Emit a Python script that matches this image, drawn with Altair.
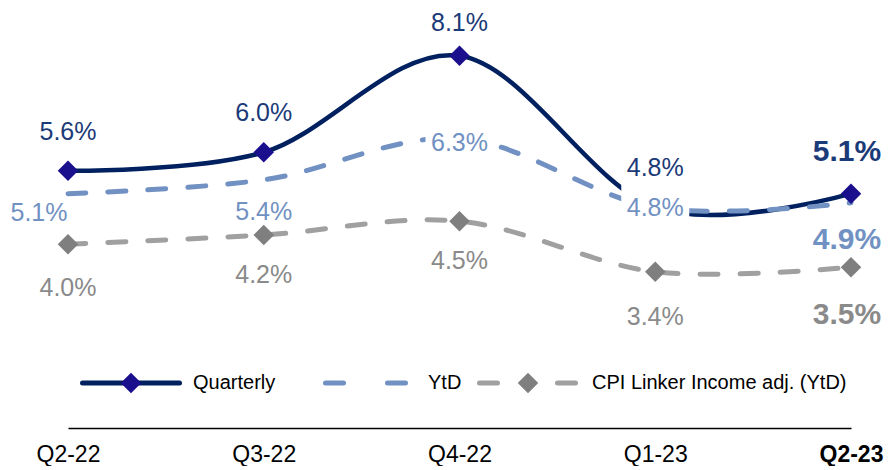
import altair as alt
import pandas as pd

quarters = ["Q2-22", "Q3-22", "Q4-22", "Q1-23", "Q2-23"]
quarterly = [5.6, 6.0, 8.1, 4.8, 5.1]
ytd = [5.1, 5.4, 6.3, 4.8, 4.9]
cpi = [4.0, 4.2, 4.5, 3.4, 3.5]
series_names = ["Quarterly", "YtD", "CPI Linker Income adj. (YtD)"]

rows = []
for name, vals in zip(series_names, [quarterly, ytd, cpi]):
    for i, (q, v) in enumerate(zip(quarters, vals)):
        rows.append({"series": name, "quarter": q, "value": v, "idx": i})
df = pd.DataFrame(rows)
legend_df = pd.DataFrame({"series": series_names})

FONT = "Liberation Sans"
NAVY = "#00205f"
NAVY_MK = "#1a0f8c"
NAVY_TX = "#1b3a78"
BLUE = "#7191c3"
GREY = "#a0a0a0"
GREY_MK = "#7f7f7f"
GREY_TX = "#8a8a8a"

x_enc = alt.X(
    "quarter:N",
    sort=quarters,
    scale=alt.Scale(type="point", domain=quarters, range=[60, 843], padding=0),
    axis=alt.Axis(
        title=None, domain=True, domainColor="black", domainWidth=1.5,
        ticks=False, tickSize=0, grid=False,
        labelFont=FONT, labelFontSize=23, labelColor="black", labelPadding=15,
        labelAngle=0, labelOverlap=False, labelBound=False, labelFlush=False,
        labelFontWeight={"condition": {"test": "datum.value == 'Q2-23'", "value": "bold"}, "value": "normal"},
    ),
)
y_enc = alt.Y("value:Q", scale=alt.Scale(domain=[0, 9.14], nice=False, zero=False), axis=None)

def sel(name):
    return alt.Chart(df).transform_filter(alt.datum.series == name)

layers = []
# lines
line_styles = [
    ("Quarterly", dict(color=NAVY, strokeWidth=4.5)),
    ("YtD", dict(color=BLUE, strokeWidth=5, strokeDash=[18, 22], strokeCap="round")),
    ("CPI Linker Income adj. (YtD)", dict(color=GREY, strokeWidth=5, strokeDash=[18, 22], strokeCap="round")),
]
for name, st in line_styles:
    layers.append(
        sel(name).mark_line(interpolate="cardinal", tension=0, **st).encode(
            x=x_enc, y=y_enc, order=alt.Order("idx:Q")
        )
    )
# markers
for name, col in [("Quarterly", NAVY_MK), ("CPI Linker Income adj. (YtD)", GREY_MK)]:
    layers.append(
        sel(name).mark_point(shape="diamond", filled=True, size=420, color=col, opacity=1).encode(
            x=x_enc, y=y_enc
        )
    )

# label offsets (layout)
label_specs = {
    "Quarterly": (NAVY_TX, [(0, -39), (0, -39), (0, -33), (0, -39), (-4, -42)]),
    "YtD": (BLUE, [(-29, 19), (0, 32), (0, 4), (0, 1), (-4, 37)]),
    "CPI Linker Income adj. (YtD)": (GREY_TX, [(0, 44), (0, 40), (0, 40), (0, 45), (-4, 48)]),
}
# white boxes behind YtD labels at Q4-22 and Q1-23
for i in [2, 3]:
    dx, dy = label_specs["YtD"][1][i]
    layers.append(
        sel("YtD").transform_filter(alt.datum.idx == i).mark_point(
            shape="M-1,-0.7H1V0.7H-1Z", size=4624, filled=True, color="white",
            opacity=1, strokeWidth=0, xOffset=dx, yOffset=dy,
        ).encode(x=x_enc, y=y_enc)
    )
for name, (col, offs) in label_specs.items():
    for i, (dx, dy) in enumerate(offs):
        bold = i == 4
        layers.append(
            sel(name).transform_filter(alt.datum.idx == i)
            .transform_calculate(lab="format(datum.value, '.1f') + '%'")
            .mark_text(
                font=FONT, fontSize=30 if bold else 25, fontWeight="bold" if bold else "normal",
                color=col, align="center", baseline="middle", dx=dx, dy=dy,
            ).encode(x=x_enc, y=y_enc, text="lab:N")
        )

# legend
def leg(name):
    return alt.Chart(legend_df).transform_filter(alt.datum.series == name)

LY = 375
layers += [
    leg("Quarterly").mark_rule(color=NAVY, strokeWidth=5, strokeCap="round").encode(
        x=alt.value(74.5), x2=alt.value(171.5), y=alt.value(LY)),
    leg("Quarterly").mark_point(shape="diamond", filled=True, size=420, color=NAVY_MK, opacity=1).encode(
        x=alt.value(123), y=alt.value(LY)),
    leg("Quarterly").mark_text(font=FONT, fontSize=20, color="black", align="left", baseline="middle").encode(
        x=alt.value(185), y=alt.value(LY), text="series:N"),
    leg("YtD").mark_rule(color=BLUE, strokeWidth=5, strokeCap="round", strokeDash=[18, 44]).encode(
        x=alt.value(317.5), x2=alt.value(397.5), y=alt.value(LY)),
    leg("YtD").mark_text(font=FONT, fontSize=20, color="black", align="left", baseline="middle").encode(
        x=alt.value(420), y=alt.value(LY), text="series:N"),
    leg("CPI Linker Income adj. (YtD)").mark_rule(color=GREY, strokeWidth=5, strokeCap="round", strokeDash=[18, 60]).encode(
        x=alt.value(471.5), x2=alt.value(567.5), y=alt.value(LY)),
    leg("CPI Linker Income adj. (YtD)").mark_point(shape="diamond", filled=True, size=420, color=GREY_MK, opacity=1).encode(
        x=alt.value(520), y=alt.value(LY)),
    leg("CPI Linker Income adj. (YtD)").mark_text(font=FONT, fontSize=20, color="black", align="left", baseline="middle").encode(
        x=alt.value(584), y=alt.value(LY), text="series:N"),
]

chart = alt.layer(*layers).properties(
    width=876, height=420,
    padding={"left": 0, "top": 0, "right": 0, "bottom": 38},
    autosize=alt.AutoSizeParams(type="none"),
    background="white",
).configure_view(strokeWidth=0)

chart.save("out.html", embed_options={"renderer": "svg", "actions": False})
